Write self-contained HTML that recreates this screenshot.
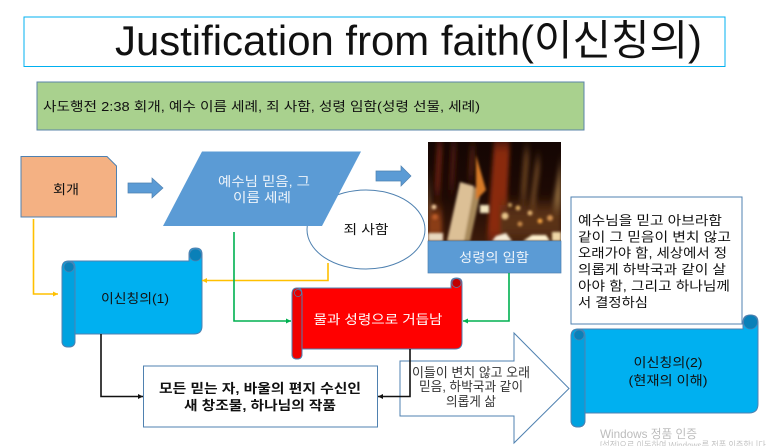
<!DOCTYPE html>
<html><head><meta charset="utf-8"><style>
html,body{margin:0;padding:0;background:#fff;width:773px;height:446px;overflow:hidden}
svg{display:block}
text{font-family:"Liberation Sans","Noto Sans CJK KR",sans-serif;font-size:13px;fill:#111}
.c{text-anchor:middle}
.w{fill:#eef4fa}
</style></head><body>
<svg width="773" height="446" viewBox="0 0 773 446" xmlns="http://www.w3.org/2000/svg">
<defs>
<filter id="b2" x="-50%" y="-50%" width="200%" height="200%"><feGaussianBlur stdDeviation="2 7"/></filter>
<filter id="b1" x="-50%" y="-50%" width="200%" height="200%"><feGaussianBlur stdDeviation="1.200"/></filter>
<clipPath id="fc"><rect x="428" y="142" width="133" height="99"/></clipPath>
<linearGradient id="fg" x1="0" y1="0" x2="0" y2="1"><stop offset="0" stop-color="#140603"/><stop offset=".55" stop-color="#1e0a04"/><stop offset="1" stop-color="#3c1a0a"/></linearGradient>
<marker id="ay" markerWidth="6" markerHeight="6" refX="5" refY="3" orient="auto" markerUnits="userSpaceOnUse"><path d="M0,0.500L5,3L0,5.500z" fill="#ffc000"/></marker>
<marker id="ag" markerWidth="6" markerHeight="6" refX="5" refY="3" orient="auto" markerUnits="userSpaceOnUse"><path d="M0,0.500L5,3L0,5.500z" fill="#00b050"/></marker>
<marker id="ak" markerWidth="6" markerHeight="6" refX="5" refY="3" orient="auto" markerUnits="userSpaceOnUse"><path d="M0,0.500L5,3L0,5.500z" fill="#111"/></marker>
</defs>

<!-- title -->
<rect x="24" y="17" width="701" height="49.500" fill="#fff" stroke="#00b0f0" stroke-width="1"/>
<text x="115" y="55" style="font-size:42px" textLength="587" lengthAdjust="spacingAndGlyphs">Justification from faith(이신칭의)</text>

<!-- green -->
<rect x="37" y="82" width="547" height="48" fill="#a9d18e" stroke="#5b84a8" stroke-width="1"/>
<text x="43" y="111" textLength="437" lengthAdjust="spacingAndGlyphs">사도행전 2:38 회개, 예수 이름 세례, 죄 사함, 성령 임함(성령 선물, 세례)</text>

<!-- orange -->
<path d="M21 156.500H107L116.500 166V217H21z" fill="#f4b183" stroke="#4f81b0"/>
<text class="c" x="66" y="194" textLength="26" lengthAdjust="spacingAndGlyphs">회개</text>

<!-- arrow 1 -->
<path d="M128 183H152V178L163 188L152 198V193H128z" fill="#5b9bd5" stroke="#4f81b0" stroke-width=".7"/>

<!-- ellipse -->
<ellipse cx="366" cy="229.500" rx="59" ry="39.500" fill="#fff" stroke="#4f81b0"/>
<text class="c" x="366" y="234" textLength="45" lengthAdjust="spacingAndGlyphs">죄 사함</text>

<!-- parallelogram -->
<path d="M202 151.500H361L322 226H163z" fill="#5b9bd5"/>
<text class="c w" x="264" y="186" textLength="92" lengthAdjust="spacingAndGlyphs">예수님 믿음, 그</text>
<text class="c w" x="262" y="202" textLength="58" lengthAdjust="spacingAndGlyphs">이름 세례</text>

<!-- arrow 2 -->
<path d="M376 171H401V166L411 176L401 186V181H376z" fill="#5b9bd5" stroke="#4f81b0" stroke-width=".7"/>

<!-- fire -->
<g clip-path="url(#fc)">
<rect x="428" y="142" width="133" height="99" fill="url(#fg)"/>
<g filter="url(#b2)">
<path d="M437 142L434 195H440L443 142z" fill="#5e1f0e"/>
<path d="M451 142L449 190H454L457 142z" fill="#45180b"/>
<path d="M470 146L468 180H473L476 146z" fill="#4a1e0d"/>
<path d="M494 142L487 241H505L510 142z" fill="#8a2c10"/>
<path d="M524 150L520 200H526L530 150z" fill="#5f3a1c"/>
<path d="M536 160L529 210H534L541 160z" fill="#6a4522"/>
<path d="M561 160L549 225H561z" fill="#8f6a3c"/>
<path d="M428 170L431 220H428z" fill="#a77a4a"/>
<path d="M428 210H442V241H428z" fill="#8c3e18"/>
<rect x="500" y="205" width="61" height="34" fill="#5a3014"/>
</g>
<g filter="url(#b1)">
<path d="M460 182L474 186L466 241H447z" fill="#dcc096"/>
<path d="M474 188L482 186L470 241H464z" fill="#a88a5c"/>
<path d="M476 155L486 190L476 200z" fill="#d87a28"/>
<path d="M480 205H489V213H480z" fill="#f4e6c0"/>
<circle cx="434" cy="207" r="2.500" fill="#f0c89a"/>
<circle cx="435" cy="217" r="3" fill="#b85a28"/>
<circle cx="505" cy="216" r="3.500" fill="#e8c48a"/>
<circle cx="510" cy="205" r="2" fill="#caa060"/>
<circle cx="518" cy="208" r="2.500" fill="#d8a860"/>
<circle cx="530" cy="213" r="2.500" fill="#e0b070"/>
<circle cx="540" cy="221" r="2.500" fill="#f0a040"/>
<circle cx="550" cy="218" r="3" fill="#d09050"/>
<circle cx="520" cy="224" r="2.500" fill="#c88a4a"/>
<path d="M428 233H443V241H428z" fill="#e8d8c0"/>
<path d="M496 236L506 233L512 241H492z" fill="#f6ecd8"/>
<path d="M523 241L532 235H546L550 241z" fill="#fff2d0"/>
<path d="M552 232H561V241H552z" fill="#efd8a8"/>
</g>
</g>
<rect x="428" y="241" width="133" height="32" fill="#5b9bd5" stroke="#4f81b0" stroke-width=".7"/>
<text class="c w" x="494" y="262" textLength="70" lengthAdjust="spacingAndGlyphs">성령의 임함</text>

<!-- big arrow -->
<path d="M400 361H514V333L569 388.500L514 443V416H400z" fill="#fff" stroke="#4f81b0"/>

<!-- scroll 1 -->
<path d="M62 270Q62 261 71 261H189V254Q189 248 195.500 248Q202 248 202 254V326Q202 334 194 334H75V341Q75 347 68.500 347Q62 347 62 341z" fill="#00b0f0" stroke="#4f81b0"/>
<path d="M62 268Q62 261 68.500 261Q75 261 75 268V341Q75 347 68.500 347Q62 347 62 341z" fill="#00a2df" stroke="#4f81b0"/>
<circle cx="69" cy="267" r="5" fill="#0a80b8" stroke="#4f81b0" stroke-width=".7"/>
<circle cx="195.500" cy="255" r="6" fill="#0a80b8" stroke="#4f81b0" stroke-width=".7"/>
<text class="c" x="135" y="303" textLength="68" lengthAdjust="spacingAndGlyphs">이신칭의(1)</text>

<!-- scroll red -->
<path d="M292 295Q292 288 299 288H451V283Q451 278 456.500 278Q462 278 462 283V342Q462 349 455 349H302V354Q302 359 297 359Q292 359 292 354z" fill="#ff0000" stroke="#4f81b0"/>
<path d="M292 294Q292 288 297 288Q302 288 302 294V354Q302 359 297 359Q292 359 292 354z" fill="#f00000" stroke="#4f81b0"/>
<circle cx="298" cy="293" r="3.500" fill="#e00000" stroke="#4f81b0" stroke-width=".7"/>
<circle cx="456.500" cy="283" r="4.500" fill="#c00000" stroke="#4f81b0" stroke-width=".7"/>
<text class="c" x="378" y="324" style="fill:#fff" textLength="129" lengthAdjust="spacingAndGlyphs">물과 성령으로 거듭남</text>

<!-- bottom box -->
<rect x="143.500" y="366" width="234" height="61" fill="#fff" stroke="#4f81b0"/>
<text class="c" x="260" y="393" font-weight="bold" textLength="202" lengthAdjust="spacingAndGlyphs">모든 믿는 자, 바울의 편지 수신인</text>
<text class="c" x="260" y="410" font-weight="bold" textLength="152" lengthAdjust="spacingAndGlyphs">새 창조물, 하나님의 작품</text>

<!-- connectors -->
<path d="M33.500 219V294H58" fill="none" stroke="#ffc000" stroke-width="1.600" marker-end="url(#ay)"/>
<path d="M328 263V280.500H202" fill="none" stroke="#ffc000" stroke-width="1.600" marker-end="url(#ay)"/>
<path d="M234 232V321H291" fill="none" stroke="#00b050" stroke-width="1.600" marker-end="url(#ag)"/>
<path d="M509 273V321H463" fill="none" stroke="#00b050" stroke-width="1.600" marker-end="url(#ag)"/>
<path d="M101 334V396.500H143" fill="none" stroke="#111" stroke-width="1.600" marker-end="url(#ak)"/>
<path d="M410 349V396.500H378" fill="none" stroke="#111" stroke-width="1.600" marker-end="url(#ak)"/>

<!-- big arrow text -->
<text class="c" x="471" y="377" style="fill:#333" textLength="118" lengthAdjust="spacingAndGlyphs">이들이 변치 않고 오래</text>
<text class="c" x="471" y="391" style="fill:#333" textLength="104" lengthAdjust="spacingAndGlyphs">믿음, 하박국과 같이</text>
<text class="c" x="471" y="406" style="fill:#333" textLength="50" lengthAdjust="spacingAndGlyphs">의롭게 삶</text>

<!-- text box -->
<rect x="571" y="197" width="171" height="127" fill="#fff" stroke="#4f81b0"/>
<text x="578" y="225" textLength="144" lengthAdjust="spacingAndGlyphs">예수님을 믿고 아브라함</text>
<text x="578" y="241.500" textLength="153" lengthAdjust="spacingAndGlyphs">같이 그 믿음이 변치 않고</text>
<text x="578" y="257.500" textLength="149" lengthAdjust="spacingAndGlyphs">오래가야 함, 세상에서 정</text>
<text x="578" y="274" textLength="148" lengthAdjust="spacingAndGlyphs">의롭게 하박국과 같이 살</text>
<text x="578" y="290.500" textLength="152" lengthAdjust="spacingAndGlyphs">아야 함, 그리고 하나님께</text>
<text x="578" y="307" textLength="70" lengthAdjust="spacingAndGlyphs">서 결정하심</text>

<!-- scroll 2 -->
<path d="M571 338Q571 329 580 329H743V322Q743 315 750.500 315Q758 315 758 322V404Q758 413 749 413H585V420Q585 427 578 427Q571 427 571 420z" fill="#00b0f0" stroke="#4f81b0"/>
<path d="M571 336Q571 329 578 329Q585 329 585 336V420Q585 427 578 427Q571 427 571 420z" fill="#00a2df" stroke="#4f81b0"/>
<circle cx="579" cy="335" r="5" fill="#0a80b8" stroke="#4f81b0" stroke-width=".7"/>
<circle cx="750.500" cy="322" r="7" fill="#0a80b8" stroke="#4f81b0" stroke-width=".7"/>
<text class="c" x="668" y="367" textLength="69" lengthAdjust="spacingAndGlyphs">이신칭의(2)</text>
<text class="c" x="668" y="385" textLength="79" lengthAdjust="spacingAndGlyphs">(현재의 이해)</text>

<!-- watermark -->
<text x="600" y="438" style="font-size:12px;fill:#bcbcbc" textLength="97" lengthAdjust="spacingAndGlyphs">Windows 정품 인증</text>
<text x="600" y="449" style="font-size:10px;fill:#c4c4c4" textLength="168" lengthAdjust="spacingAndGlyphs">[설정]으로 이동하여 Windows를 정품 인증합니다.</text>
</svg>
</body></html>
